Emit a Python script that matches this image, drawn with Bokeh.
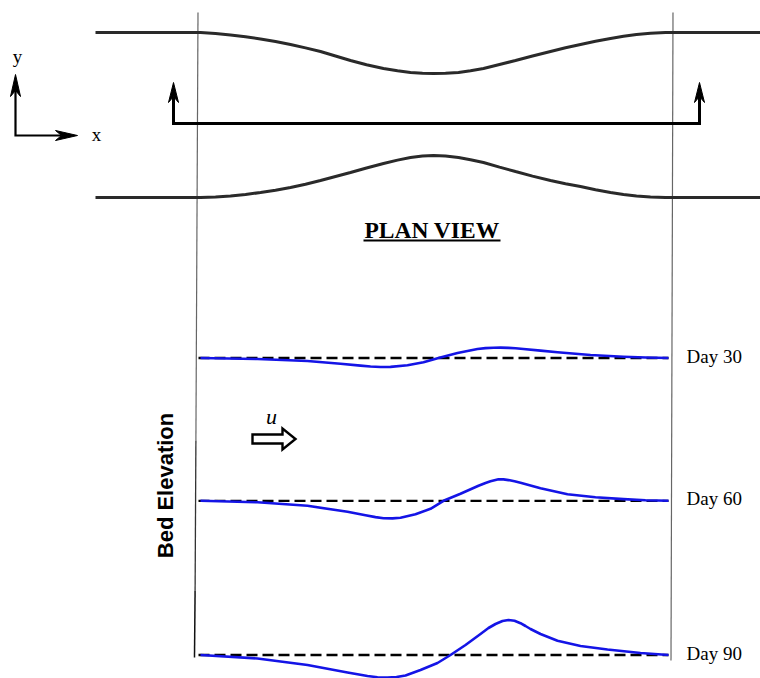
import math
from bokeh.plotting import figure
from bokeh.models import Range1d, Label
from bokeh.embed import file_html
from bokeh.resources import INLINE

# ---------------- data (picture units, y grows downward) ----------------
# plan view: channel walls
wall_x = [95, 200, 215, 230, 245, 260, 275, 290, 305, 320, 335, 350, 366, 383, 397, 410, 422, 433, 445,
          458, 470, 483, 499, 515, 532, 550, 565, 580, 595, 610, 623, 636, 650, 665, 760]
top_wall_y = [32, 32, 33, 34.5, 36.3, 38.5, 41, 44, 47.4, 51, 55.5, 60, 64.3, 68, 70.3, 72, 72.8, 73, 72.8,
              72, 70.2, 68, 64, 60, 55.5, 51, 47.3, 44, 40.8, 38, 35.8, 34, 32.8, 32, 32]
bottom_wall_y = [197, 197, 196.4, 195.5, 194, 192, 189.8, 187, 183.7, 180, 176, 172, 167.5, 163, 159.6, 157, 155.6, 155, 155.6,
                 157, 159.3, 162, 166.6, 171, 175.6, 180, 183.2, 186, 189.2, 192, 194, 195.5, 196.5, 197, 197]

# flow path (rises at both ends, arrow tips at top)
flow_x = [173, 173, 699, 699]
flow_y = [82, 123, 123, 82]

# coordinate indicator
axis_origin = (15, 135)
axis_y_tip = (15, 74)
axis_x_tip = (77, 135)

# vertical guide lines (top, bottom)
guide_left = ([197.5, 195.4], [12, 440])
guide_left_dark = ([195.4, 194.6], [440, 590])
guide_left_solid = ([194.6, 194], [590, 657])
guide_right = ([672.5, 670.5], [12, 660])

# bed elevation profiles: baseline position, x positions, elevation offsets (up positive)
days = ["Day 30", "Day 60", "Day 90"]
baselines = [357.5, 500.3, 654.5]
profile_start, profile_end = 198, 668

d30_x = [200, 257, 307, 340, 360, 370, 380, 390, 407, 423, 438, 457, 477, 485, 493, 500, 508, 515, 523, 540, 557, 590, 623, 645, 668]
d30_z = [0, -1, -3, -5.7, -7.6, -8.5, -9, -8.9, -7.3, -4.3, 0, 5, 9, 9.9, 10.3, 10.4, 10.1, 9.7, 9, 7.4, 5.7, 3, 1.3, 0.5, 0]

d60_x = [200, 257, 307, 347, 365, 375, 383, 392, 400, 415, 430, 443, 460, 478, 485, 490, 498, 503, 508, 514, 520, 530, 540, 567, 595, 623, 645, 668]
d60_z = [0, -1.5, -5, -11, -14.5, -16.3, -17.5, -17.6, -17, -13.5, -8, 0, 7, 15, 17.8, 19.5, 21.5, 21.4, 20.7, 19.5, 18, 15.3, 12.5, 6.5, 3.5, 1.7, 0.6, 0]

d90_x = [200, 257, 307, 347, 367, 377, 387, 396, 405, 420, 437, 450, 465, 480, 488, 495, 502, 508, 514, 520, 525, 530, 540, 557, 580, 607, 640, 668]
d90_z = [0, -3.5, -10, -17.5, -21, -22.2, -22.5, -22, -20.5, -15, -8, 0, 10, 21, 27, 31, 34, 35, 34.2, 31.8, 29, 26, 21, 14.3, 9, 5.5, 2, 0]

profiles_x = [d30_x, d60_x, d90_x]
profiles_z = [d30_z, d60_z, d90_z]

# flow direction block arrow
u_tail_x, u_head_x, u_tip_x, u_center_y = 252, 282, 295, 438.5
u_body_half, u_head_half = 4.5, 10.5

# ---------------- figure ----------------
p = figure(width=760, height=678, x_range=Range1d(0, 760), y_range=Range1d(678, 0),
           output_backend="svg", toolbar_location=None, min_border=0)
p.axis.visible = False
p.grid.visible = False
p.outline_line_color = None
p.background_fill_color = "white"
p.border_fill_color = "white"

WALL = "#2a2a2a"
serif = "Liberation Serif"


def arrow_head(tip, direction, length=18, half_w=5, notch=5, color="black"):
    tx, ty = tip
    dx, dy = direction
    n = math.hypot(dx, dy)
    dx, dy = dx / n, dy / n
    nx, ny = -dy, dx
    bx, by = tx - length * dx, ty - length * dy
    xs = [tx, bx + half_w * nx, tx - (length - notch) * dx, bx - half_w * nx]
    ys = [ty, by + half_w * ny, ty - (length - notch) * dy, by - half_w * ny]
    p.patch(xs, ys, fill_color=color, line_color=color, line_width=1)
    return tx - (length - notch) * dx, ty - (length - notch) * dy


# guides
p.line(guide_left[0], guide_left[1], line_color="#666666", line_width=1.2)
p.line(guide_right[0], guide_right[1], line_color="#666666", line_width=1.2)
p.line(guide_left_dark[0], guide_left_dark[1], line_color="#333333", line_width=1.3)
p.line(guide_left_solid[0], guide_left_solid[1], line_color="#111111", line_width=1.5)

# walls
p.line(wall_x, top_wall_y, line_color=WALL, line_width=3)
p.line(wall_x, bottom_wall_y, line_color=WALL, line_width=3)

# flow path with arrows
s1 = arrow_head((flow_x[0], flow_y[0]), (0, flow_y[0] - flow_y[1]), length=20, half_w=5, notch=6)
s2 = arrow_head((flow_x[3], flow_y[3]), (0, flow_y[3] - flow_y[2]), length=20, half_w=5, notch=6)
p.line([s1[0], flow_x[1], flow_x[2], s2[0]], [s1[1], flow_y[1], flow_y[2], s2[1]],
       line_color="black", line_width=3, line_join="miter")

# coordinate indicator
a1 = arrow_head(axis_y_tip, (0, axis_y_tip[1] - axis_origin[1]), length=22, half_w=5, notch=6)
a2 = arrow_head(axis_x_tip, (axis_x_tip[0] - axis_origin[0], 0), length=22, half_w=5, notch=6)
p.line([a1[0], axis_origin[0], a2[0]], [a1[1], axis_origin[1], a2[1]],
       line_color="black", line_width=2.2, line_join="miter")
p.add_layout(Label(x=17, y=56, text="y", text_font=serif, text_font_size="19px", text_color="black",
                   text_align="center", text_baseline="middle"))
p.add_layout(Label(x=96, y=134, text="x", text_font=serif, text_font_size="19px", text_color="black",
                   text_align="center", text_baseline="middle"))

# title
p.add_layout(Label(x=431.5, y=229, text="PLAN VIEW", text_font=serif, text_font_size="23.5px",
                   text_color="black", text_font_style="bold", text_align="center", text_baseline="middle"))
p.line([363, 500], [240, 240], line_color="black", line_width=2)

# bed profiles
for name, base, xs, zs in zip(days, baselines, profiles_x, profiles_z):
    p.line([profile_start, profile_end], [base, base], line_color="black", line_width=2.3, line_dash="11 5")
    p.line(xs, [base - z for z in zs], line_color="#1414e6", line_width=2.6, line_join="round")
    p.add_layout(Label(x=686, y=base - 2, text=name, text_font=serif, text_font_size="19px",
                       text_color="black", text_align="left", text_baseline="middle"))

# axis label
p.add_layout(Label(x=165, y=485, text="Bed Elevation", text_font="Liberation Sans",
                   text_font_size="22px", text_font_style="bold", angle=90, angle_units="deg",
                   text_color="black", text_align="center", text_baseline="middle"))

# flow block arrow
bx = [u_tail_x, u_head_x, u_head_x, u_tip_x, u_head_x, u_head_x, u_tail_x]
by = [u_center_y - u_body_half, u_center_y - u_body_half, u_center_y - u_head_half, u_center_y,
      u_center_y + u_head_half, u_center_y + u_body_half, u_center_y + u_body_half]
p.patch(bx, by, fill_color="white", line_color="black", line_width=2.4, line_join="miter")
p.add_layout(Label(x=271, y=416, text="u", text_font=serif, text_font_size="22px", text_color="black",
                   text_font_style="italic", text_align="center", text_baseline="middle"))

open("out.html", "w").write(file_html(p, INLINE))
